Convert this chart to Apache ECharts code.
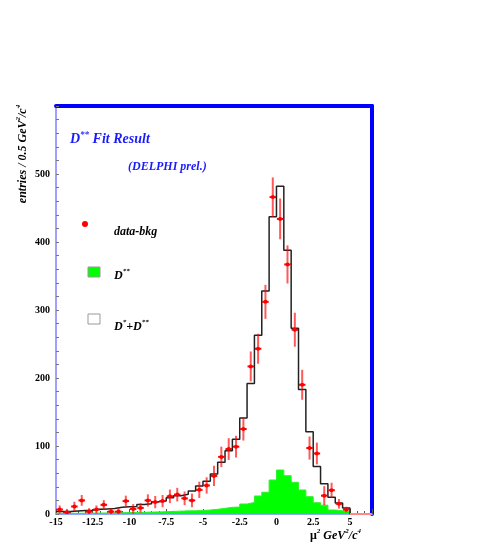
<!DOCTYPE html>
<html>
<head>
<meta charset="utf-8">
<title>D** Fit Result</title>
<script src="https://cdn.jsdelivr.net/npm/echarts@6/dist/echarts.min.js"></script>
<style>
  html, body { margin: 0; padding: 0; background: #fff; }
  #chart { width: 485px; height: 554px; }
</style>
</head>
<body>
<div id="chart"></div>
<script>
// bin centres of the mu^2 histogram (0.5 GeV^2/c^4 bins)
const binCenters = [-14.75, -14.25, -13.75, -13.25, -12.75, -12.25, -11.75, -11.25, -10.75, -10.25,
  -9.75, -9.25, -8.75, -8.25, -7.75, -7.25, -6.75, -6.25, -5.75, -5.25,
  -4.75, -4.25, -3.75, -3.25, -2.75, -2.25, -1.75, -1.25, -0.75, -0.25,
  0.25, 0.75, 1.25, 1.75, 2.25, 2.75, 3.25, 3.75, 4.25, 4.75,
  5.25, 5.75, 6.25]
// data - bkg (red crosses) and their errors
const dataBkg = [6.6, 2.5, 11, 20, 3.5, 6.6, 13.5, 3.5, 3.5, 19,
  7.5, 9, 20, 17.5, 19, 26, 28.5, 23, 20, 35.5,
  42, 56, 84, 95.5, 99, 125, 217, 243, 312, 466,
  434, 367, 271, 190, 97, 89, 27, 35, 15, 6.6,
  null, null, null]
const dataErr = [6, 5, 7, 8, 5, 6, 7, 5, 5, 8,
  7, 7, 9, 9, 9, 10, 10, 10, 10, 12,
  12, 15, 15, 16, 16, 17, 22, 22, 25, 29,
  30, 28, 25, 22, 17, 16, 14, 11, 7, 4,
  null, null, null]
// D* + D** fit (black outline)
const fitTotal = [3.5, 3.5, 4.5, 5, 5.5, 7, 7.5, 8, 10, 10.5,
  11, 14, 15, 18, 19, 24, 27, 29, 34, 41,
  48, 59, 76, 93, 110, 141, 192, 263, 328, 437,
  482, 388, 273, 183, 121, 70, 44.6, 24.6, 16, 9,
  0, 0, 0]
// D** component (green)
const dStarStar = [1, 1, 1, 1.2, 1.3, 1.4, 1.5, 1.7, 1.9, 2.1,
  2.3, 2.5, 2.8, 3.1, 3.4, 3.8, 4.2, 4.6, 4.8, 5,
  5.9, 6.9, 8.3, 9.8, 10.3, 14.7, 17, 26.5, 32, 50,
  64.7, 56.3, 46.6, 35.3, 25.5, 16.6, 13, 5.9, 4.9, 3.4,
  0, 0, 0]

const HALF = 0.25
const SERIF = '"Liberation Serif", "Times New Roman", serif'

// histogram outline: points on the left bin edges, step turns at the next edge
function stepData(centers, values) {
  const pts = centers.map((c, i) => [c - HALF, values[i]])
  pts.push([centers[centers.length - 1] + HALF, values[values.length - 1]])
  return pts
}

function emptyBins(centers, values) {
  const idx = []
  values.forEach((v, i) => { if (v === 0) idx.push(i) })
  return stepData(idx.map(i => centers[i]), idx.map(i => values[i]))
}

const points = []
binCenters.forEach((c, i) => {
  if (dataBkg[i] !== null) points.push([c, dataBkg[i], dataErr[i]])
})

function fontOf(size, bold, italic) {
  return (italic ? 'italic ' : '') + (bold ? 'bold ' : '') + size + 'px ' + SERIF
}

function richSet(size, color) {
  return {
    t: { font: fontOf(size, true, true), fill: color, lineHeight: size + 2, verticalAlign: 'bottom' },
    m: { font: fontOf(size, true, false), fill: color, lineHeight: size + 2, verticalAlign: 'bottom' },
    s: { font: fontOf(Math.round(size * 0.62), true, true), fill: color, lineHeight: size - 2, verticalAlign: 'top' }
  }
}

const chart = echarts.init(document.getElementById('chart'), null, { renderer: 'canvas' })

chart.setOption({
  backgroundColor: '#fff',
  animation: false,
  grid: {
    left: 56,
    right: 113,
    top: 106,
    bottom: 40,
    outerBoundsMode: 'none'
  },
  xAxis: [
    {
      type: 'value',
      min: -15,
      max: 6.5,
      interval: 2.5,
      axisLine: { show: true, onZero: false, lineStyle: { color: '#8aaaff', width: 2 } },
      axisTick: { show: true, inside: true, length: 5, lineStyle: { color: '#555' } },
      minorTick: { show: true, splitNumber: 5, length: 3, lineStyle: { color: '#555' } },
      axisLabel: {
        color: '#000',
        fontFamily: SERIF,
        fontWeight: 'bold',
        fontSize: 10,
        margin: 3,
        formatter: v => (v > 5.01 ? '' : String(v))
      },
      splitLine: { show: false }
    },
    {
      type: 'value',
      position: 'top',
      min: -15,
      max: 6.5,
      axisLine: { show: true, onZero: false, lineStyle: { color: '#0000ff', width: 4 } },
      axisTick: { show: false },
      axisLabel: { show: false },
      splitLine: { show: false }
    }
  ],
  yAxis: [
    {
      type: 'value',
      min: 0,
      max: 600,
      interval: 100,
      axisLine: { show: true, onZero: false, lineStyle: { color: '#a0a0ff', width: 2 } },
      axisTick: { show: true, inside: true, length: 3, lineStyle: { color: '#777' } },
      minorTick: { show: true, splitNumber: 5, length: 3, lineStyle: { color: '#777' } },
      axisLabel: {
        color: '#000',
        fontFamily: SERIF,
        fontWeight: 'bold',
        fontSize: 10,
        margin: 6,
        formatter: v => (v >= 600 ? '' : String(v))
      },
      splitLine: { show: false }
    },
    {
      type: 'value',
      position: 'right',
      min: 0,
      max: 600,
      axisLine: { show: true, onZero: false, lineStyle: { color: '#0000ff', width: 4 } },
      axisTick: { show: false },
      axisLabel: { show: false },
      splitLine: { show: false }
    }
  ],
  series: [
    {
      name: 'D**',
      type: 'line',
      step: 'end',
      data: stepData(binCenters, dStarStar),
      symbol: 'none',
      lineStyle: { color: '#33ee33', width: 1 },
      areaStyle: { color: '#00ff00', opacity: 1 },
      z: 2
    },
    {
      name: 'D*+D**',
      type: 'line',
      step: 'end',
      data: stepData(binCenters, fitTotal),
      symbol: 'none',
      lineStyle: { color: '#222', width: 1.5 },
      z: 3
    },
    {
      name: 'empty',
      type: 'line',
      step: 'end',
      data: emptyBins(binCenters, fitTotal),
      symbol: 'none',
      lineStyle: { color: '#ff8888', width: 2 },
      z: 4
    },
    {
      name: 'data-bkg',
      type: 'custom',
      clip: true,
      dimensions: ['x', 'y', 'err'],
      encode: { x: 0, y: 1 },
      data: points,
      z: 5,
      renderItem(params, api) {
        const x = api.value(0)
        const y = api.value(1)
        const e = api.value(2)
        const c = api.coord([x, y])
        const top = api.coord([x, y + e])
        const bot = api.coord([x, Math.max(0, y - e)])
        const l = api.coord([x - 0.22, y])
        const r = api.coord([x + 0.22, y])
        return {
          type: 'group',
          children: [
            { type: 'line', shape: { x1: c[0], y1: top[1], x2: c[0], y2: bot[1] },
              style: { stroke: 'rgba(255,0,0,0.65)', lineWidth: 2 } },
            { type: 'line', shape: { x1: l[0], y1: c[1], x2: r[0], y2: c[1] },
              style: { stroke: '#ff0000', lineWidth: 2 } },
            { type: 'circle', shape: { cx: c[0], cy: c[1], r: 2 },
              style: { fill: '#ff0000' } }
          ]
        }
      }
    }
  ],
  graphic: [
    // titles
    {
      type: 'text', x: 70, y: 138,
      style: { text: '{t|D}{s|**}{t| Fit Result}', rich: richSet(14, '#1a1aff'), align: 'left', verticalAlign: 'middle' }
    },
    {
      type: 'text', x: 128, y: 166,
      style: { text: '{t|(DELPHI prel.)}', rich: richSet(12, '#1a1aff'), align: 'left', verticalAlign: 'middle' }
    },
    // axis titles
    {
      type: 'text', x: 22, y: 154, rotation: Math.PI / 2,
      style: { text: '{t|entries / 0.5 GeV}{s|2}{t|/c}{s|4}', rich: richSet(12, '#000'), align: 'center', verticalAlign: 'middle' }
    },
    {
      type: 'text', x: 310, y: 535,
      style: { text: '{m|\u03bc}{s|2}{t| GeV}{s|2}{t|/c}{s|4}', rich: richSet(12, '#000'), align: 'left', verticalAlign: 'middle' }
    },
    // legend
    { type: 'circle', shape: { cx: 85, cy: 224, r: 3 }, style: { fill: '#ff0000' } },
    {
      type: 'text', x: 114, y: 231,
      style: { text: '{t|data-bkg}', rich: richSet(12, '#000'), align: 'left', verticalAlign: 'middle' }
    },
    { type: 'rect', shape: { x: 88, y: 267, width: 12, height: 10 }, style: { fill: '#00ff00', stroke: '#999', lineWidth: 1 } },
    {
      type: 'text', x: 114, y: 275,
      style: { text: '{t|D}{s|**}', rich: richSet(12, '#000'), align: 'left', verticalAlign: 'middle' }
    },
    { type: 'rect', shape: { x: 88, y: 314, width: 12, height: 10 }, style: { fill: '#fff', stroke: '#999', lineWidth: 1 } },
    {
      type: 'text', x: 114, y: 326,
      style: { text: '{t|D}{s|*}{t|+D}{s|**}', rich: richSet(12, '#000'), align: 'left', verticalAlign: 'middle' }
    }
  ]
})
</script>
</body>
</html>
